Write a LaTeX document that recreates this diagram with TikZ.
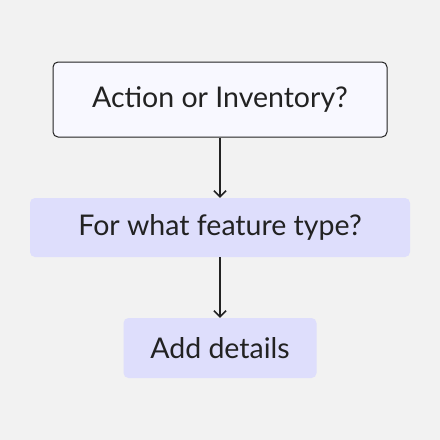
\documentclass[tikz,border=0pt]{standalone}
\usepackage{fontspec}
\setmainfont{Lato}
\usetikzlibrary{arrows.meta}
\definecolor{bgcol}{HTML}{F2F2F2}
\definecolor{topfill}{HTML}{F8F8FF}
\definecolor{lavender}{HTML}{DEDEFC}
\definecolor{ink}{HTML}{222222}
\tikzset{
  box/.style={rounded corners=5pt, inner sep=0pt, align=center, text=ink,
    font=\fontsize{28.5}{32}\selectfont},
  link/.style={draw=ink, line width=1.5pt, -{Straight Barb[length=6pt, width=12pt]}}
}
\begin{document}
\begin{tikzpicture}[x=1pt, y=-1pt]
                    \fill[bgcol] (0,0) rectangle (440,440);
                    \useasboundingbox (0,0) rectangle (440,440);
                    \node[box, draw=ink, line width=1pt, fill=topfill, minimum width=334pt, minimum height=75pt] (ask) at (220,99.5) {Action or Inventory?};
                    \node[box, fill=lavender, minimum width=380pt, minimum height=59pt] (type) at (220,227.5) {For what feature type?};
                    \node[box, fill=lavender, minimum width=193pt, minimum height=60pt] (details) at (220,348) {Add details};
                    \draw[link] (ask) -- (type);
                    \draw[link] (type) -- (details);
                \end{tikzpicture}
\end{document}
